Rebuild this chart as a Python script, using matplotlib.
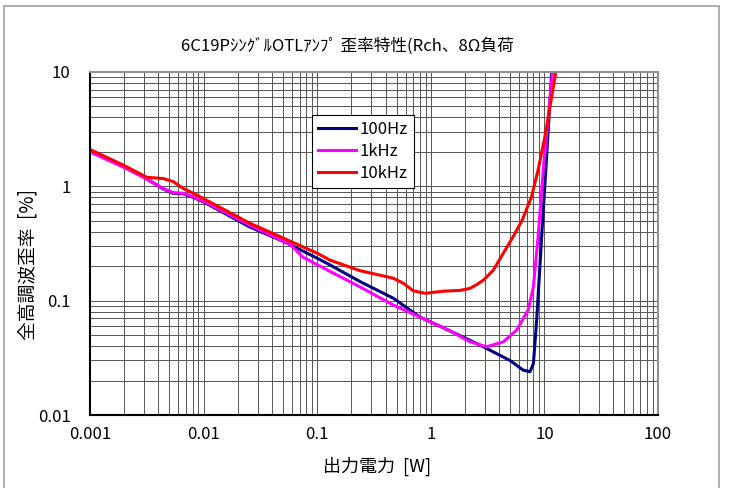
import matplotlib.pyplot as plt
import matplotlib.ticker as mticker
from matplotlib.patches import Rectangle

plt.rcParams['font.family'] = ['Noto Sans CJK JP', 'DejaVu Sans']

# 100Hz
p100 = [0.001, 0.002, 0.00295, 0.0044, 0.0054, 0.0066, 0.0081, 0.01, 0.0256, 0.054, 0.1,
        0.13, 0.238, 0.468, 0.8, 1.5, 2.9, 4.98, 6.5, 7.46, 8.0, 8.55, 9.46, 10.5, 11.6]
d100 = [2.05, 1.48, 1.21, 0.95, 0.87, 0.86, 0.8, 0.73, 0.44, 0.32, 0.235,
        0.205, 0.147, 0.105, 0.072, 0.054, 0.0395, 0.030, 0.0247, 0.0239, 0.028, 0.0676,
        0.362, 1.94, 10]

# 1kHz
p1k = [0.001, 0.002, 0.00295, 0.0044, 0.0054, 0.0066, 0.0081, 0.01, 0.0256, 0.054, 0.058,
       0.075, 0.13, 0.238, 0.468, 0.8, 1.5, 2.21, 3.1, 4.35, 5.7, 7.2, 8.0, 8.8, 9.77,
       11.1, 11.8]
d1k = [2.0, 1.46, 1.2, 0.96, 0.88, 0.87, 0.81, 0.74, 0.457, 0.32, 0.31,
       0.24, 0.18, 0.132, 0.0915, 0.072, 0.054, 0.0437, 0.0395, 0.0437, 0.0553, 0.083, 0.132,
       0.362, 1.39, 5.3, 10]

# 10kHz
p10k = [0.001, 0.002, 0.00316, 0.0044, 0.0054, 0.0066, 0.0087, 0.0256, 0.1, 0.13, 0.238,
        0.357, 0.468, 0.573, 0.7, 0.89, 1.29, 1.81, 2.21, 2.5, 2.9, 3.32, 3.55, 4.35, 5.3,
        6.4, 7.7, 8.8, 10.1, 11.6, 12.6]
d10k = [2.1, 1.52, 1.2, 1.17, 1.1, 0.96, 0.84, 0.475, 0.26, 0.226, 0.183,
        0.167, 0.157, 0.142, 0.122, 0.116, 0.121, 0.123, 0.128, 0.137, 0.151, 0.173, 0.185,
        0.26, 0.362, 0.51, 0.81, 1.39, 2.72, 6.1, 10]

fig = plt.figure(figsize=(7.3, 4.88), dpi=100)
fig.patches.append(Rectangle((4 / 730, -0.05), 715 / 730, 1.05 - 6 / 488,
                             transform=fig.transFigure, fill=False,
                             edgecolor='#a0a0a0', linewidth=1.2))
ax = fig.add_axes([90 / 730, 1 - 415 / 488, 568 / 730, 343 / 488])

ax.plot(p100, d100, color='#000080', lw=2.2, label='100Hz')
ax.plot(p1k, d1k, color='#ff00ff', lw=2.2, label='1kHz')
ax.plot(p10k, d10k, color='#ff0000', lw=2.2, label='10kHz')

ax.set_xscale('log')
ax.set_yscale('log')
ax.set_xlim(0.001, 100)
ax.set_ylim(0.01, 10)
ax.xaxis.set_minor_locator(mticker.LogLocator(subs=range(2, 10)))
ax.yaxis.set_minor_locator(mticker.LogLocator(subs=range(2, 10)))
ax.xaxis.set_minor_formatter(mticker.NullFormatter())
ax.yaxis.set_minor_formatter(mticker.NullFormatter())
ax.xaxis.set_major_formatter(mticker.FuncFormatter(lambda v, p: f'{v:g}'))
ax.yaxis.set_major_formatter(mticker.FuncFormatter(lambda v, p: f'{v:g}'))
ax.grid(True, which='both', color='#555555', lw=0.7)
ax.set_axisbelow(True)
ax.tick_params(which='both', length=0, labelsize=12)
ax.tick_params(axis='y', pad=14)
ax.tick_params(axis='x', pad=8)

for s in ['top', 'right']:
    ax.spines[s].set_color('#909090')
    ax.spines[s].set_linewidth(1.5)
for s in ['left', 'bottom']:
    ax.spines[s].set_color('black')
    ax.spines[s].set_linewidth(1.5)

fig.text(377 / 730, 1 - 466 / 488, '出力電力  [W]', fontsize=13, ha='center', va='center')
fig.text(28 / 730, 1 - 265 / 488, '全高調波歪率  [%]', fontsize=13.5, rotation=90,
         ha='center', va='center')
fig.text(347 / 730, 1 - 46 / 488, '6C19PｼﾝｸﾞﾙOTLｱﾝﾌﾟ 歪率特性(Rch、8Ω負荷',
         fontsize=12, ha='center', va='center')

leg = ax.legend(loc='upper left', bbox_to_anchor=((312 - 90) / 568, (415 - 115) / 343),
                fontsize=12, fancybox=False, framealpha=1, edgecolor='black',
                handlelength=2.3, borderpad=0.35, labelspacing=0.3, handletextpad=0.2,
                borderaxespad=0)
leg.get_frame().set_linewidth(0.8)

fig.savefig('out.png', dpi=100)
